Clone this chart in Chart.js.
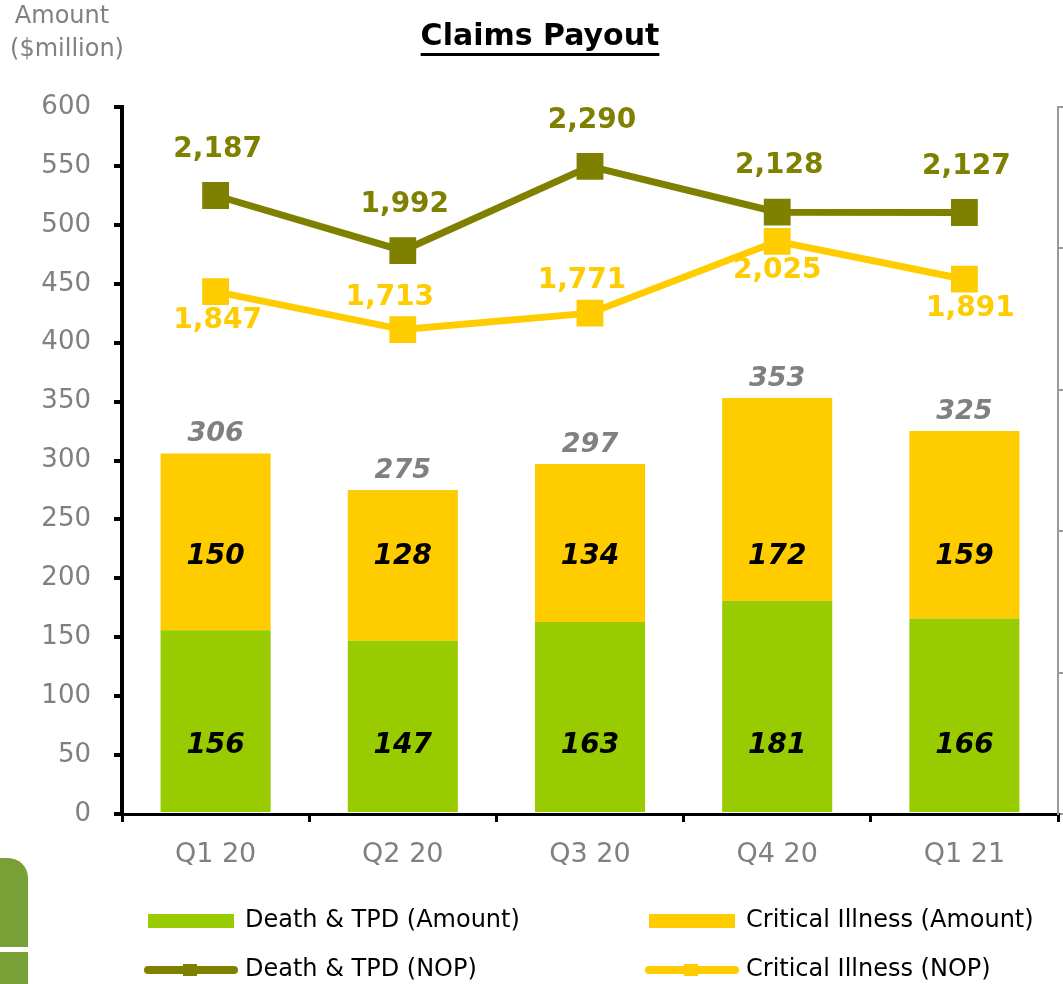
<!DOCTYPE html>
<html>
<head>
<meta charset="utf-8">
<script src="https://cdn.jsdelivr.net/npm/chart.js@4"></script>
<style>
  body { margin: 0; background: #fff; }
  canvas { display: block; }
</style>
</head>
<body>
<canvas id="claimsChart" width="1063" height="984"></canvas>
<script>
const CATEGORIES = ["Q1 20", "Q2 20", "Q3 20", "Q4 20", "Q1 21"];
const DEATH_TPD_AMOUNT = [156, 147, 163, 181, 166];
const CI_AMOUNT = [150, 128, 134, 172, 159];
const TOTAL_AMOUNT = [306, 275, 297, 353, 325];
const DEATH_TPD_NOP = [2187, 1992, 2290, 2128, 2127];
const CI_NOP = [1847, 1713, 1771, 2025, 1891];

// where each Critical Illness (NOP) label sits relative to its point
const CI_NOP_LABEL_SIDE = ["below", "above", "above", "below", "below"];
const CI_NOP_LABEL_SHIFT = [2, -13, -8, 0, 6];

const GREEN = "#99CC00";
const YELLOW = "#FFCC00";
const OLIVE = "#808000";
const GREY = "#808080";
const FONT = "'DejaVu Sans', sans-serif";

const fmt = (v) => v.toLocaleString("en-US");

// data labels on bars and lines
const labelPlugin = {
    id: "labels",
    afterDatasetsDraw: function (chart) {
        const ctx = chart.ctx;
        const y = chart.scales.y;
        const greenBars = chart.getDatasetMeta(0).data;
        const yellowBars = chart.getDatasetMeta(1).data;
        const olivePts = chart.getDatasetMeta(2).data;
        const yellowPts = chart.getDatasetMeta(3).data;
        ctx.save();
        ctx.textAlign = "center";
        ctx.textBaseline = "middle";

        ctx.font = "italic bold 28px " + FONT;
        ctx.fillStyle = "#000";
        greenBars.forEach((bar, i) => {
            ctx.fillText(fmt(DEATH_TPD_AMOUNT[i]), bar.x, y.getPixelForValue(58));
        });
        yellowBars.forEach((bar, i) => {
            ctx.fillText(fmt(CI_AMOUNT[i]), bar.x, y.getPixelForValue(218));
        });

        ctx.fillStyle = GREY;
        ctx.font = "italic bold 27px " + FONT;
        yellowBars.forEach((bar, i) => {
            ctx.fillText(fmt(TOTAL_AMOUNT[i]), bar.x, bar.y - 19);
        });

        ctx.font = "bold 28px " + FONT;
        ctx.fillStyle = OLIVE;
        olivePts.forEach((pt, i) => {
            ctx.fillText(fmt(DEATH_TPD_NOP[i]), pt.x + 2, pt.y - 46);
        });
        ctx.fillStyle = YELLOW;
        yellowPts.forEach((pt, i) => {
            const dy = CI_NOP_LABEL_SIDE[i] === "above" ? -32 : 29;
            ctx.fillText(fmt(CI_NOP[i]), pt.x + CI_NOP_LABEL_SHIFT[i], pt.y + dy);
        });
        ctx.restore();
    },
};

// title, axis caption, legend and the slide decoration
const decorPlugin = {
    id: "decor",
    afterDraw: function (chart) {
        const ctx = chart.ctx;
        ctx.save();

        // title
        ctx.font = "bold 30px " + FONT;
        ctx.fillStyle = "#000";
        ctx.textAlign = "center";
        ctx.textBaseline = "alphabetic";
        const title = "Claims Payout";
        ctx.fillText(title, 540, 45);
        const tw = ctx.measureText(title).width;
        ctx.fillRect(540 - tw / 2, 53, tw, 3);

        // axis caption
        ctx.font = "24px " + FONT;
        ctx.fillStyle = GREY;
        ctx.textBaseline = "middle";
        ctx.fillText("Amount", 62, 17);
        ctx.fillText("($million)", 67, 50);

        // legend
        const ds = chart.data.datasets;
        const items = [
            { d: ds[0], x: 148, y: 921, kind: "bar" },
            { d: ds[1], x: 649, y: 921, kind: "bar" },
            { d: ds[2], x: 144, y: 970, kind: "line" },
            { d: ds[3], x: 645, y: 970, kind: "line" },
        ];
        ctx.font = "24px " + FONT;
        ctx.textAlign = "left";
        items.forEach((it) => {
            if (it.kind === "bar") {
                ctx.fillStyle = it.d.backgroundColor;
                ctx.fillRect(it.x, it.y - 7, 86, 14);
                ctx.fillStyle = "#000";
                ctx.fillText(it.d.label, it.x + 97, it.y);
            } else {
                ctx.strokeStyle = it.d.borderColor;
                ctx.lineWidth = 8;
                ctx.lineCap = "round";
                ctx.beginPath();
                ctx.moveTo(it.x + 4, it.y);
                ctx.lineTo(it.x + 90, it.y);
                ctx.stroke();
                ctx.fillStyle = it.d.borderColor;
                ctx.fillRect(it.x + 39, it.y - 6, 14, 12);
                ctx.fillStyle = "#000";
                ctx.fillText(it.d.label, it.x + 101, it.y);
            }
        });

        // slide logo edge, bottom left
        ctx.fillStyle = "#77A136";
        ctx.beginPath();
        ctx.roundRect(-30, 858, 58, 160, 20);
        ctx.fill();
        ctx.fillStyle = "#fff";
        ctx.fillRect(0, 947, 30, 5);

        ctx.restore();
    },
};

const data = {
    labels: CATEGORIES,
    datasets: [
        {
            type: "bar",
            label: "Death & TPD (Amount)",
            data: DEATH_TPD_AMOUNT,
            backgroundColor: GREEN,
            yAxisID: "y",
            order: 3,
        },
        {
            type: "bar",
            label: "Critical Illness (Amount)",
            data: CI_AMOUNT,
            backgroundColor: YELLOW,
            yAxisID: "y",
            order: 3,
        },
        {
            type: "line",
            label: "Death & TPD (NOP)",
            data: DEATH_TPD_NOP,
            borderColor: OLIVE,
            backgroundColor: OLIVE,
            borderWidth: 7,
            pointStyle: "rect",
            pointRadius: 14,
            pointHoverRadius: 14,
            yAxisID: "y1",
            order: 1,
        },
        {
            type: "line",
            label: "Critical Illness (NOP)",
            data: CI_NOP,
            borderColor: YELLOW,
            backgroundColor: YELLOW,
            borderWidth: 7,
            pointStyle: "rect",
            pointRadius: 14,
            pointHoverRadius: 14,
            yAxisID: "y1",
            order: 1,
        },
    ],
};

const ctx = document.getElementById("claimsChart").getContext("2d");
const chart = new Chart(ctx, {
    data: data,
    plugins: [labelPlugin, decorPlugin],
    options: {
        responsive: false,
        animation: false,
        layout: {
            autoPadding: false,
            padding: { top: 107, left: 0, right: 0, bottom: 110 },
        },
        datasets: {
            bar: { categoryPercentage: 1, barPercentage: 0.588 },
        },
        plugins: {
            legend: { display: false },
            tooltip: { enabled: false },
            title: { display: false },
        },
        scales: {
            x: {
                stacked: true,
                offset: true,
                border: { color: "#000", width: 3 },
                grid: {
                    offset: true,
                    drawOnChartArea: false,
                    drawTicks: true,
                    tickLength: 8,
                    color: "#000",
                    lineWidth: 3,
                },
                ticks: {
                    color: GREY,
                    font: { family: FONT, size: 27 },
                    padding: 17,
                },
                afterFit: function (scale) {
                    scale.height = 60;
                },
            },
            y: {
                stacked: true,
                position: "left",
                min: 0,
                max: 600,
                border: { color: "#000", width: 4 },
                grid: {
                    drawOnChartArea: false,
                    drawTicks: true,
                    tickLength: 8,
                    color: "#000",
                    lineWidth: 4,
                },
                ticks: {
                    stepSize: 50,
                    color: GREY,
                    font: { family: FONT, size: 26 },
                    padding: 23,
                },
                afterFit: function (scale) {
                    scale.width = 122;
                },
            },
            y1: {
                position: "right",
                min: 0,
                max: 2500,
                border: { color: "#999", width: 2 },
                grid: {
                    drawOnChartArea: false,
                    drawTicks: true,
                    tickLength: 5,
                    color: "#999",
                    lineWidth: 2,
                },
                ticks: { stepSize: 500, display: false },
                afterFit: function (scale) {
                    scale.width = 5;
                },
            },
        },
    },
});
</script>
</body>
</html>
